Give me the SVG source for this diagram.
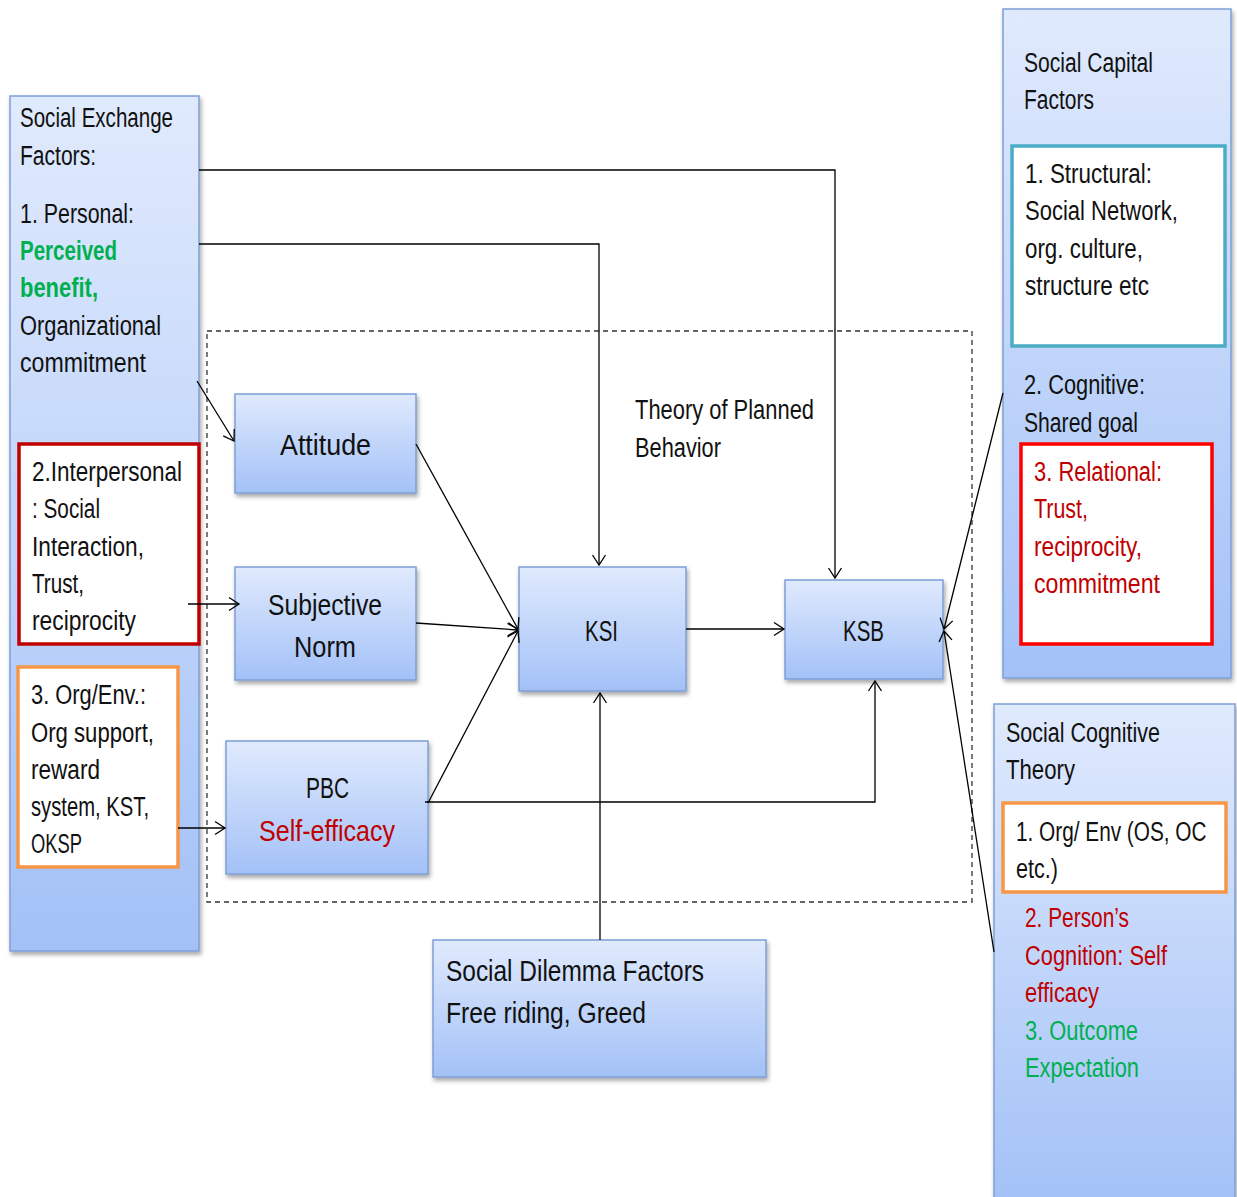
<svg xmlns="http://www.w3.org/2000/svg" width="1237" height="1197" viewBox="0 0 1237 1197">
  <defs>
    <linearGradient id="blueFill" x1="0" y1="0" x2="0" y2="1">
      <stop offset="0" stop-color="#e0eafd"/>
      <stop offset="1" stop-color="#a3c1f7"/>
    </linearGradient>
    <filter id="shadow" x="-10%" y="-10%" width="130%" height="130%">
      <feDropShadow dx="1.5" dy="3" stdDeviation="2" flood-color="#000" flood-opacity="0.35"/>
    </filter>
    <marker id="ah" viewBox="-12 -8 14 16" refX="0" refY="0" markerWidth="14" markerHeight="16" markerUnits="userSpaceOnUse" orient="auto">
      <path d="M-10,-6.5 L0,0 L-10,6.5" fill="none" stroke="#000" stroke-width="1.3"/>
    </marker>
    <style>
      .panel { fill: url(#blueFill); stroke: #7d9fd6; stroke-width: 1.5; filter: url(#shadow); }
      .inner { fill: #fff; stroke-width: 3.5; }
      .t { font-family: "Liberation Sans", Arial, sans-serif; font-size: 27px; fill: #111; }
      .tn { font-family: "Liberation Sans", Arial, sans-serif; font-size: 30px; fill: #111; }
      .red { fill: #c00000; }
      .green { fill: #00b050; }
      .bold { font-weight: bold; }
      .conn { fill: none; stroke: #000; stroke-width: 1.3; }
    </style>
  </defs>

  <rect width="1237" height="1197" fill="#fff"/>

  <!-- Theory of Planned Behavior frame -->
  <g id="tpb-frame">
    <rect x="207" y="331" width="765" height="571" fill="none" stroke="#333" stroke-width="1.3" stroke-dasharray="5,4"/>
    <text class="t" x="635" y="419" textLength="179" lengthAdjust="spacingAndGlyphs">Theory of Planned</text>
    <text class="t" x="635" y="457" textLength="86" lengthAdjust="spacingAndGlyphs">Behavior</text>
  </g>

  <!-- Social Exchange Factors -->
  <g id="social-exchange">
    <rect class="panel" x="10" y="96" width="189" height="855"/>
    <text class="t" x="20" y="127" textLength="153" lengthAdjust="spacingAndGlyphs">Social Exchange</text>
    <text class="t" x="20" y="165" textLength="76" lengthAdjust="spacingAndGlyphs">Factors:</text>
    <text class="t" x="20" y="223" textLength="114" lengthAdjust="spacingAndGlyphs">1. Personal:</text>
    <text class="t green bold" x="20" y="260" textLength="97" lengthAdjust="spacingAndGlyphs">Perceived</text>
    <text class="t green bold" x="20" y="297" textLength="78" lengthAdjust="spacingAndGlyphs">benefit,</text>
    <text class="t" x="20" y="335" textLength="141" lengthAdjust="spacingAndGlyphs">Organizational</text>
    <text class="t" x="20" y="372" textLength="126" lengthAdjust="spacingAndGlyphs">commitment</text>

    <rect class="inner" x="19" y="444" width="180" height="200" stroke="#c00000"/>
    <text class="t" x="32" y="481" textLength="150" lengthAdjust="spacingAndGlyphs">2.Interpersonal</text>
    <text class="t" x="32" y="518" textLength="68" lengthAdjust="spacingAndGlyphs">: Social</text>
    <text class="t" x="32" y="556" textLength="112" lengthAdjust="spacingAndGlyphs">Interaction,</text>
    <text class="t" x="32" y="593" textLength="52" lengthAdjust="spacingAndGlyphs">Trust,</text>
    <text class="t" x="32" y="630" textLength="104" lengthAdjust="spacingAndGlyphs">reciprocity</text>

    <rect class="inner" x="18" y="667" width="160" height="200" stroke="#f79646"/>
    <text class="t" x="31" y="704" textLength="115" lengthAdjust="spacingAndGlyphs">3. Org/Env.:</text>
    <text class="t" x="31" y="742" textLength="123" lengthAdjust="spacingAndGlyphs">Org support,</text>
    <text class="t" x="31" y="779" textLength="69" lengthAdjust="spacingAndGlyphs">reward</text>
    <text class="t" x="31" y="816" textLength="118" lengthAdjust="spacingAndGlyphs">system, KST,</text>
    <text class="t" x="31" y="853" textLength="51" lengthAdjust="spacingAndGlyphs">OKSP</text>
  </g>

  <!-- Social Capital Factors -->
  <g id="social-capital">
    <rect class="panel" x="1003" y="9" width="228" height="669"/>
    <text class="t" x="1024" y="72" textLength="129" lengthAdjust="spacingAndGlyphs">Social Capital</text>
    <text class="t" x="1024" y="109" textLength="70" lengthAdjust="spacingAndGlyphs">Factors</text>

    <rect class="inner" x="1012" y="146" width="213" height="200" stroke="#4bacc6"/>
    <text class="t" x="1025" y="183" textLength="127" lengthAdjust="spacingAndGlyphs">1. Structural:</text>
    <text class="t" x="1025" y="220" textLength="153" lengthAdjust="spacingAndGlyphs">Social Network,</text>
    <text class="t" x="1025" y="258" textLength="118" lengthAdjust="spacingAndGlyphs">org. culture,</text>
    <text class="t" x="1025" y="295" textLength="124" lengthAdjust="spacingAndGlyphs">structure etc</text>

    <text class="t" x="1024" y="394" textLength="121" lengthAdjust="spacingAndGlyphs">2. Cognitive:</text>
    <text class="t" x="1024" y="432" textLength="114" lengthAdjust="spacingAndGlyphs">Shared goal</text>

    <rect class="inner" x="1021" y="444" width="191" height="200" stroke="#ff0000"/>
    <text class="t red" x="1034" y="481" textLength="128" lengthAdjust="spacingAndGlyphs">3. Relational:</text>
    <text class="t red" x="1034" y="518" textLength="54" lengthAdjust="spacingAndGlyphs">Trust,</text>
    <text class="t red" x="1034" y="556" textLength="108" lengthAdjust="spacingAndGlyphs">reciprocity,</text>
    <text class="t red" x="1034" y="593" textLength="126" lengthAdjust="spacingAndGlyphs">commitment</text>
  </g>

  <!-- Social Cognitive Theory -->
  <g id="social-cognitive">
    <rect class="panel" x="994" y="704" width="241" height="500"/>
    <text class="t" x="1006" y="742" textLength="154" lengthAdjust="spacingAndGlyphs">Social Cognitive</text>
    <text class="t" x="1006" y="779" textLength="69" lengthAdjust="spacingAndGlyphs">Theory</text>

    <rect class="inner" x="1003" y="803" width="223" height="89" stroke="#f79646"/>
    <!-- horizontally condensed so the line stays inside the orange box -->
    <text class="t" transform="translate(1016,841) scale(0.77,1)" x="0" y="0">1. Org/ Env (OS, OC</text>
    <text class="t" x="1016" y="878" textLength="42" lengthAdjust="spacingAndGlyphs">etc.)</text>

    <text class="t red" x="1025" y="927" textLength="104" lengthAdjust="spacingAndGlyphs">2. Person’s</text>
    <text class="t red" x="1025" y="965" textLength="142" lengthAdjust="spacingAndGlyphs">Cognition: Self</text>
    <text class="t red" x="1025" y="1002" textLength="74" lengthAdjust="spacingAndGlyphs">efficacy</text>
    <text class="t green" x="1025" y="1040" textLength="113" lengthAdjust="spacingAndGlyphs">3. Outcome</text>
    <text class="t green" x="1025" y="1077" textLength="114" lengthAdjust="spacingAndGlyphs">Expectation</text>
  </g>

  <!-- TPB constructs -->
  <g id="attitude">
    <rect class="panel" x="235" y="394" width="181" height="99"/>
    <text class="tn" x="280" y="455" textLength="91" lengthAdjust="spacingAndGlyphs">Attitude</text>
  </g>
  <g id="subjective-norm">
    <rect class="panel" x="235" y="567" width="181" height="113"/>
    <text class="tn" x="268" y="615" textLength="114" lengthAdjust="spacingAndGlyphs">Subjective</text>
    <text class="tn" x="294" y="657" textLength="62" lengthAdjust="spacingAndGlyphs">Norm</text>
  </g>
  <g id="pbc">
    <rect class="panel" x="226" y="741" width="202" height="133"/>
    <text class="tn" x="306" y="798" textLength="43" lengthAdjust="spacingAndGlyphs">PBC</text>
    <text class="tn red" x="259" y="841" textLength="136" lengthAdjust="spacingAndGlyphs">Self-efficacy</text>
  </g>
  <g id="ksi">
    <rect class="panel" x="519" y="567" width="167" height="124"/>
    <text class="tn" x="585" y="641" textLength="33" lengthAdjust="spacingAndGlyphs">KSI</text>
  </g>
  <g id="ksb">
    <rect class="panel" x="785" y="580" width="158" height="99"/>
    <text class="tn" x="843" y="641" textLength="41" lengthAdjust="spacingAndGlyphs">KSB</text>
  </g>
  <g id="social-dilemma">
    <rect class="panel" x="433" y="940" width="333" height="137"/>
    <text class="tn" x="446" y="981" textLength="258" lengthAdjust="spacingAndGlyphs">Social Dilemma Factors</text>
    <text class="tn" x="446" y="1023" textLength="200" lengthAdjust="spacingAndGlyphs">Free riding, Greed</text>
  </g>

  <!-- Connectors -->
  <g id="connectors">
    <polyline class="conn" points="199,170 835,170 835,578" marker-end="url(#ah)"/>
    <polyline class="conn" points="199,244 599,244 599,565" marker-end="url(#ah)"/>
    <line class="conn" x1="197" y1="381" x2="234" y2="441" marker-end="url(#ah)"/>
    <line class="conn" x1="188" y1="604" x2="239" y2="604" marker-end="url(#ah)"/>
    <line class="conn" x1="178" y1="828" x2="225" y2="828" marker-end="url(#ah)"/>
    <line class="conn" x1="416" y1="444" x2="518" y2="629" marker-end="url(#ah)"/>
    <line class="conn" x1="416" y1="623" x2="518" y2="630" marker-end="url(#ah)"/>
    <line class="conn" x1="428" y1="803" x2="518" y2="631" marker-end="url(#ah)"/>
    <polyline class="conn" points="425,802 875,802 875,681" marker-end="url(#ah)"/>
    <line class="conn" x1="600" y1="940" x2="600" y2="693" marker-end="url(#ah)"/>
    <line class="conn" x1="686" y1="629" x2="784" y2="629" marker-end="url(#ah)"/>
    <line class="conn" x1="1003" y1="393" x2="944" y2="629" marker-end="url(#ah)"/>
    <line class="conn" x1="994" y1="952" x2="944" y2="631" marker-end="url(#ah)"/>
  </g>
</svg>
